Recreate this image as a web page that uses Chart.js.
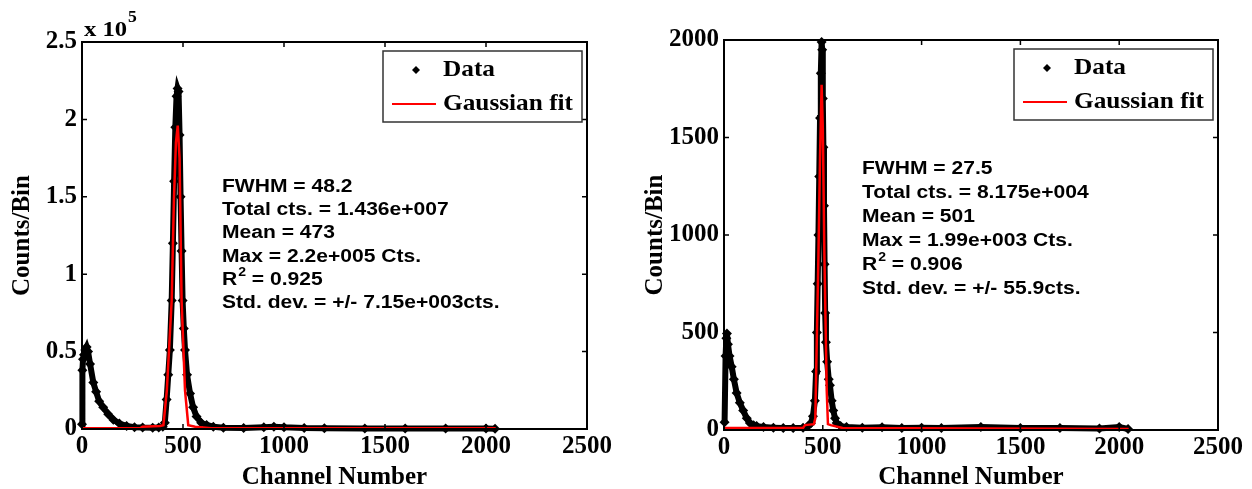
<!DOCTYPE html>
<html lang="en">
<head>
<meta charset="UTF-8">
<title>Channel spectra with Gaussian fit</title>
<script src="https://cdn.jsdelivr.net/npm/chart.js"></script>
<style>
  body { margin: 0; background: #fff; }
  #wrap { position: relative; width: 1252px; height: 489px; }
  .panel { position: absolute; top: 0; width: 626px; height: 489px; }
</style>
</head>
<body>
<div id="wrap">
  <div class="panel" style="left:0"><canvas id="leftChart" width="626" height="489"></canvas></div>
  <div class="panel" style="left:626px"><canvas id="rightChart" width="626" height="489"></canvas></div>
</div>

<script>
// ---- data ----
const xTicks = [0, 500, 1000, 1500, 2000, 2500];

const leftYTicks = [0, 50000, 100000, 150000, 200000, 250000];
const leftYLabels = ['0', '0.5', '1', '1.5', '2', '2.5'];
const rightYTicks = [0, 500, 1000, 1500, 2000];
const rightYLabels = ['0', '500', '1000', '1500', '2000'];

const leftChannels = [0, 2, 5, 10, 16, 23, 30, 40, 56, 70, 85, 105, 130, 155, 185, 221, 260, 300, 350, 380,
    400, 410, 419, 427, 435, 444, 450, 456, 462, 468, 473, 478, 483, 488, 493, 498, 504, 510, 520, 535,
    550, 567, 590, 617, 650, 700, 800, 900, 950, 1000, 1100, 1200, 1400, 1600, 1800, 2000, 2045];
const leftCounts = [3000, 38000, 45000, 48000, 51000, 53000, 50000, 42000, 30000, 24000, 18000, 14000, 9500, 6000, 3500, 2000, 1200, 900, 800, 900,
    1500, 4000, 19000, 35000, 51000, 83000, 120000, 160000, 195000, 215000, 220000, 218000, 190000, 150000, 115000, 83000, 65000, 51000, 35000, 23000,
    14000, 8000, 4000, 2600, 1500, 800, 700, 1200, 1500, 1100, 600, 500, 400, 400, 300, 300, 200];

const leftFitChannels = [0, 287, 300, 386, 403, 420, 444, 455, 465, 474, 483, 493, 510, 526, 560, 640, 2048];
const leftFitCounts = [500, 500, 1500, 2000, 2500, 25000, 83000, 148000, 185000, 196000, 175000, 83000, 25000, 2500, 1500, 500, 500];

const rightChannels = [3, 8, 12, 15, 20, 28, 39, 50, 64, 80, 97, 115, 131, 150, 165, 200, 250, 300, 350, 400,
    425, 440, 450, 460, 466, 470, 474, 478, 482, 486, 490, 494, 497, 500, 503, 506, 509, 512, 516, 522,
    530, 536, 545, 553, 562, 570, 590, 620, 700, 800, 900, 1000, 1100, 1300, 1500, 1700, 1900, 2000, 2045];
const rightCounts = [40, 380, 470, 495, 440, 380, 325, 260, 190, 140, 100, 60, 36, 25, 20, 15, 12, 10, 10, 12,
    20, 35, 70, 150, 300, 500, 750, 1000, 1300, 1600, 1830, 1990, 1950, 1700, 1450, 1150, 850, 600, 450, 350,
    260, 230, 150, 100, 60, 36, 20, 15, 12, 14, 10, 12, 10, 15, 10, 10, 8, 15, 5];

const rightFitChannels = [0, 400, 410, 455, 462, 478, 486, 494, 500, 508, 520, 526, 540, 600, 2048];
const rightFitCounts = [10, 10, 25, 30, 60, 900, 1400, 1770, 1550, 900, 200, 30, 25, 10, 5];

const legendLabels = ['Data', 'Gaussian fit'];
const leftStats = ['FWHM = 48.2', 'Total cts. = 1.436e+007', 'Mean = 473', 'Max = 2.2e+005 Cts.', 'R^2 = 0.925', 'Std. dev. = +/- 7.15e+003cts.'];
const rightStats = ['FWHM = 27.5', 'Total cts. = 8.175e+004', 'Mean = 501', 'Max = 1.99e+003 Cts.', 'R^2 = 0.906', 'Std. dev. = +/- 55.9cts.'];

const serif = "'Liberation Serif', 'Times New Roman', serif";
const sans = "'Liberation Sans', Arial, sans-serif";

function toPoints(xs, ys) {
    return xs.map((x, i) => ({ x: x, y: ys[i] }));
}

// text stretched sideways like the original export
function wideText(ctx, text, x, y, sx) {
    ctx.save();
    ctx.translate(x, y);
    ctx.scale(sx, 1);
    ctx.fillText(text, 0, 0);
    const w = ctx.measureText(text).width * sx;
    ctx.restore();
    return w;
}

function diamond(ctx, x, y, r) {
    ctx.beginPath();
    ctx.moveTo(x, y - r);
    ctx.lineTo(x + r, y);
    ctx.lineTo(x, y + r);
    ctx.lineTo(x - r, y);
    ctx.closePath();
    ctx.fill();
}

function decorations(cfg) {
    return {
        id: 'decorations',
        afterDatasetsDraw(chart) {
            const ctx = chart.ctx;
            const a = chart.chartArea;
            const xs = chart.scales.x, ys = chart.scales.y;
            ctx.save();

            // box and inward ticks
            ctx.strokeStyle = '#000';
            ctx.lineWidth = 2;
            ctx.strokeRect(a.left, a.top, a.right - a.left, a.bottom - a.top);
            ctx.lineWidth = 1.5;
            ctx.beginPath();
            xs.ticks.forEach(t => {
                const p = xs.getPixelForValue(t.value);
                ctx.moveTo(p, a.bottom); ctx.lineTo(p, a.bottom - 5);
                ctx.moveTo(p, a.top); ctx.lineTo(p, a.top + 5);
            });
            ys.ticks.forEach(t => {
                const p = ys.getPixelForValue(t.value);
                ctx.moveTo(a.left, p); ctx.lineTo(a.left + 5, p);
                ctx.moveTo(a.right, p); ctx.lineTo(a.right - 5, p);
            });
            ctx.stroke();

            // exponent label
            if (cfg.exponent) {
                ctx.fillStyle = '#000';
                ctx.textBaseline = 'alphabetic';
                ctx.font = 'bold 22px ' + serif;
                const w = wideText(ctx, 'x 10', a.left + 2, a.top - 6, 1.12);
                ctx.font = 'bold 16px ' + serif;
                wideText(ctx, cfg.exponent, a.left + 2 + w + 1, a.top - 20, 1.1);
            }

            // legend
            const lw = 199, lh = 71;
            const lx = a.right - 5 - lw, ly = a.top + 9;
            ctx.fillStyle = '#fff';
            ctx.fillRect(lx, ly, lw, lh);
            ctx.strokeStyle = '#333';
            ctx.lineWidth = 1.5;
            ctx.strokeRect(lx, ly, lw, lh);
            ctx.fillStyle = '#000';
            diamond(ctx, lx + 33, ly + 19, 4);
            ctx.strokeStyle = '#ff0000';
            ctx.lineWidth = 2;
            ctx.beginPath();
            ctx.moveTo(lx + 9, ly + 53);
            ctx.lineTo(lx + 53, ly + 53);
            ctx.stroke();
            ctx.fillStyle = '#000';
            ctx.font = 'bold 23px ' + serif;
            ctx.textBaseline = 'middle';
            wideText(ctx, chart.data.datasets[1].label, lx + 60, ly + 19, 1.1);
            wideText(ctx, chart.data.datasets[0].label, lx + 60, ly + 53, 1.1);

            // fit statistics
            const sx = 1.17;
            cfg.stats.forEach((line, i) => {
                const y = a.top + cfg.statsTop + i * cfg.statsGap;
                let x = a.left + cfg.statsLeft;
                ctx.font = 'bold 18px ' + sans;
                if (line.indexOf('^') >= 0) {
                    const parts = line.split('^');
                    x += wideText(ctx, parts[0], x, y, sx);
                    ctx.font = 'bold 12px ' + sans;
                    x += wideText(ctx, parts[1].charAt(0), x + 1, y - 7, sx) + 1;
                    ctx.font = 'bold 18px ' + sans;
                    wideText(ctx, parts[1].slice(1), x, y, sx);
                } else {
                    wideText(ctx, line, x, y, sx);
                }
            });
            ctx.restore();
        }
    };
}

function makeChart(id, opts) {
    const tickFont = { family: serif, size: 25, weight: 'bold' };
    const titleFont = { family: serif, size: 25, weight: 'bold' };
    return new Chart(document.getElementById(id).getContext('2d'), {
        type: 'scatter',
        data: {
            datasets: [
                {
                    label: legendLabels[1],
                    data: toPoints(opts.fitX, opts.fitY),
                    showLine: true,
                    borderColor: '#ff0000',
                    borderWidth: 2.5,
                    pointRadius: 0,
                    clip: 6,
                    order: 0
                },
                {
                    label: legendLabels[0],
                    data: toPoints(opts.dataX, opts.dataY),
                    showLine: true,
                    borderColor: '#000',
                    borderWidth: 6,
                    backgroundColor: '#000',
                    pointStyle: 'rectRot',
                    pointRadius: 5,
                    pointBorderWidth: 0,
                    clip: 6,
                    order: 1
                }
            ]
        },
        options: {
            responsive: false,
            animation: false,
            layout: { padding: { top: opts.padTop, right: opts.padRight, left: 0, bottom: 0 } },
            plugins: { legend: { display: false }, tooltip: { enabled: false } },
            scales: {
                x: {
                    type: 'linear',
                    min: 0, max: 2500,
                    afterBuildTicks: s => { s.ticks = xTicks.map(v => ({ value: v })); },
                    afterFit: s => { s.height = opts.xHeight; },
                    grid: { display: false, drawTicks: false, tickLength: 0 },
                    border: { display: false },
                    ticks: { font: tickFont, color: '#000', padding: 3, maxRotation: 0, callback: v => String(v) },
                    title: { display: true, text: 'Channel Number', font: titleFont, color: '#000', padding: { top: 0, bottom: -4 } }
                },
                y: {
                    type: 'linear',
                    min: 0, max: opts.yTicks[opts.yTicks.length - 1],
                    afterBuildTicks: s => { s.ticks = opts.yTicks.map(v => ({ value: v })); },
                    afterFit: s => { s.width = opts.yWidth; },
                    grid: { display: false, drawTicks: false, tickLength: 0 },
                    border: { display: false },
                    ticks: { font: tickFont, color: '#000', padding: 5, callback: (v, i) => opts.yLabels[i] },
                    title: { display: true, text: 'Counts/Bin', font: titleFont, color: '#000', padding: { top: opts.yTitlePad, bottom: 0 } }
                }
            }
        },
        plugins: [decorations(opts)]
    });
}

const leftChart = makeChart('leftChart', {
    dataX: leftChannels, dataY: leftCounts,
    fitX: leftFitChannels, fitY: leftFitCounts,
    yTicks: leftYTicks, yLabels: leftYLabels,
    padTop: 42, padRight: 39, xHeight: 60, yWidth: 82, yTitlePad: 8,
    exponent: '5',
    stats: leftStats, statsLeft: 140, statsTop: 145, statsGap: 23.2
});

const rightChart = makeChart('rightChart', {
    dataX: rightChannels, dataY: rightCounts,
    fitX: rightFitChannels, fitY: rightFitCounts,
    yTicks: rightYTicks, yLabels: rightYLabels,
    padTop: 40, padRight: 34, xHeight: 59, yWidth: 98, yTitlePad: 15,
    exponent: null,
    stats: rightStats, statsLeft: 138, statsTop: 129, statsGap: 24
});
</script>
</body>
</html>
